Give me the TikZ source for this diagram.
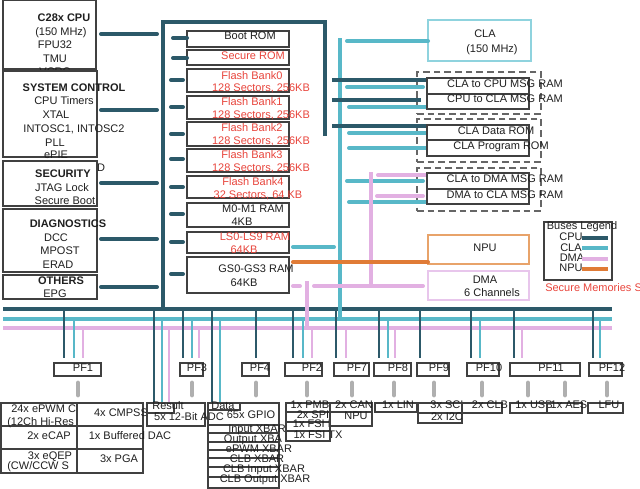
\documentclass[tikz,border=0pt]{standalone}
\usepackage{fontspec}
\setmainfont{Liberation Sans}
\usetikzlibrary{fit}
\definecolor{cpuc}{HTML}{2C5969}
\definecolor{clac}{HTML}{58B8C8}
\definecolor{dmac}{HTML}{E2B0E2}
\definecolor{npuc}{HTML}{E07B36}
\definecolor{redt}{HTML}{E8453C}
\definecolor{boxc}{HTML}{404040}
\definecolor{stubc}{HTML}{AFAFAF}
\definecolor{clabox}{HTML}{8FD3DE}
\definecolor{npubox}{HTML}{E8A36A}
\definecolor{dmabox}{HTML}{E8C6EC}
\newcommand\bbox[6][]{\node[bx,#1,fit={(#3,#4)(#5,#6)}] (#2) {};}
\tikzset{
  bx/.style={draw=boxc, line width=0.9pt, fill=white, inner sep=0pt, outer sep=0pt},
  dbx/.style={draw=boxc!80, line width=0.9pt, dash pattern=on 5pt off 3pt, fill=none, inner sep=0pt},
  tx/.style={inner sep=0pt, text height=5.9pt, text depth=0pt, font=\fontsize{8.25}{10}\selectfont, text=black!88},
  rt/.style={tx, text=redt},
  bt/.style={tx, font=\fontsize{8.25}{10}\selectfont\bfseries},
  cpubus/.style={draw=cpuc, line width=3.6pt},
  clabus/.style={draw=clac, line width=3.4pt},
  dmabus/.style={draw=dmac, line width=3.4pt},
  cpustub/.style={draw=cpuc, line width=3pt, line cap=round},
  clastub/.style={draw=clac, line width=3pt, line cap=round},
  dmastub/.style={draw=dmac, line width=3pt, line cap=round},
  npustub/.style={draw=npuc, line width=3pt, line cap=round},
  drop/.style={line width=1.5pt},
  gstub/.style={draw=stubc, line width=3.6pt, line cap=round},
  legline/.style={line width=2.4pt}
}
\begin{document}
\begin{tikzpicture}[x=0.75pt,y=-0.75pt]
\useasboundingbox (0,0) rectangle (640,489);

% ---------------- buses ----------------
\draw[cpubus, line join=miter] (325,136) -- (325,22) -- (163,22) -- (163,309);
\draw[cpubus] (3,309) -- (612,309);
\draw[clabus] (340,38) -- (340,319);
\draw[clabus] (3,319) -- (612,319);
\draw[dmabus] (3,328) -- (612,328);

% ---------------- left boxes ----------------
\bbox{cpu}{3}{0}{96}{69}
\node[bt] (tcpu1) at (64,18) {C28x CPU};
\node[tx] (tcpu2) at (61,32) {(150 MHz)};
\node[tx] (tcpu3) at (55,45) {FPU32};
\node[tx] (tcpu4) at (55,59) {TMU};
\node[tx] (tcpu5) at (55,71.5) {VCRC};

\bbox{sys}{3}{71}{97}{157}
\node[bt] (tsys1) at (74,88) {SYSTEM CONTROL};
\node[tx] (tsys2) at (64,101) {CPU Timers};
\node[tx] (tsys3) at (56,115) {XTAL};
\node[tx] (tsys4) at (74,129) {INTOSC1, INTOSC2};
\node[tx] (tsys5) at (55,143) {PLL};
\node[tx] (tsys6) at (56,155) {ePIE};
\node[tx] (tsysd) at (101,168) {D};

\bbox{sec}{3}{161}{97}{206}
\node[bt] (tsec1) at (63,174) {SECURITY};
\node[tx] (tsec2) at (62,188) {JTAG Lock};
\node[tx] (tsec3) at (65,201) {Secure Boot};

\bbox{diag}{3}{209}{97}{272}
\node[bt] (tdiag1) at (68,224) {DIAGNOSTICS};
\node[tx] (tdiag2) at (56,238) {DCC};
\node[tx] (tdiag3) at (60,251) {MPOST};
\node[tx] (tdiag4) at (58,265) {ERAD};

\bbox{oth}{3}{275}{97}{299}
\node[bt] (toth1) at (61,281) {OTHERS};
\node[tx] (toth2) at (55,294) {EPG};

% left connectors to CPU bus
\coordinate (lb1) at (157,34);
\coordinate (lb2) at (157,110);
\coordinate (lb3) at (157,183);
\coordinate (lb4) at (157,239);
\coordinate (lb5) at (157,287);
\draw[cpustub] (101,34) -- (lb1);
\draw[cpustub] (101,110) -- (lb2);
\draw[cpustub] (101,183) -- (lb3);
\draw[cpustub] (101,239) -- (lb4);
\draw[cpustub] (101,287) -- (lb5);

% ---------------- memory column ----------------
\bbox{boot}{187}{31}{289}{47}
\node[tx] (tboot) at (250,36) {Boot ROM};
\bbox{srom}{187}{50}{289}{65}
\node[rt] (tsrom) at (253,56) {Secure ROM};
\bbox{fb0}{187}{69}{289}{92}
\node[rt] (tfb0a) at (252,76) {Flash Bank0};
\node[rt] (tfb0b) at (261,88) {128 Sectors, 256KB};
\bbox{fb1}{187}{96}{289}{119}
\node[rt] (tfb1a) at (252,102) {Flash Bank1};
\node[rt] (tfb1b) at (261,115) {128 Sectors, 256KB};
\bbox{fb2}{187}{122}{289}{146}
\node[rt] (tfb2a) at (252,128) {Flash Bank2};
\node[rt] (tfb2b) at (261,141) {128 Sectors, 256KB};
\bbox{fb3}{187}{149}{289}{172}
\node[rt] (tfb3a) at (252,155) {Flash Bank3};
\node[rt] (tfb3b) at (261,168) {128 Sectors, 256KB};
\bbox{fb4}{187}{176}{289}{198}
\node[rt] (tfb4a) at (253,182) {Flash Bank4};
\node[rt] (tfb4b) at (258,195) {32 Sectors, 64 KB};
\bbox{m01}{187}{203}{289}{227}
\node[tx] (tm01a) at (253,209) {M0-M1 RAM};
\node[tx] (tm01b) at (242,222) {4KB};
\bbox{ls}{187}{232}{289}{253}
\node[rt] (tlsa) at (255,237) {LS0-LS9 RAM};
\node[rt] (tlsb) at (244,250) {64KB};
\bbox{gs}{187}{257}{289}{293}
\node[tx] (tgsa) at (256,269) {GS0-GS3 RAM};
\node[tx] (tgsb) at (244,283) {64KB};

% memory stubs from CPU bus
\draw[cpustub] (173,38) -- (boot.west |- 0,38);
\draw[cpustub] (173,58) -- (srom.west |- 0,58);
\foreach \yy in {80,107,134,159,187,214,242,274}
  \draw[cpustub] (171,\yy) -- (183,\yy);

% ---------------- CLA side ----------------
\node[bx, draw=clabox, fit={(428,20)(531,61)}] (cla) {};
\node[tx] (tcla1) at (485,34) {CLA};
\node[tx] (tcla2) at (492,49) {(150 MHz)};
\draw[clastub] (347,41) -- (cla.west |- 0,41);

\node[dbx, fit={(417,72)(541,114)}] (g1) {};
\node[dbx, fit={(417,119)(541,162)}] (g2) {};
\node[dbx, fit={(417,168)(541,211)}] (g3) {};

% connectors to message RAMs
\draw[cpustub, line cap=butt] (332,80) -- (427,80);
\draw[clastub] (347,87) -- (423,87);
\draw[cpustub, line cap=butt] (332,100) -- (421,100);
\draw[clastub] (349,107) -- (427,107);
\draw[cpustub, line cap=butt] (332,126) -- (427,126);
\draw[clastub] (349,133) -- (427,133);
\draw[clastub] (349,148) -- (427,148);
\draw[dmastub] (378,175) -- (427,175);
\draw[clastub] (347,181) -- (423,181);
\draw[dmastub] (377,196) -- (423,196);
\draw[clastub] (349,202) -- (427,202);

\bbox{m1}{427}{78}{529}{94}
\bbox{m2}{427}{94}{529}{109}
\bbox{m3}{427}{125}{529}{140}
\bbox{m4}{427}{140}{529}{156}
\bbox{m5}{427}{173}{529}{189}
\bbox{m6}{427}{189}{529}{204}
\node[tx] (tm1) at (505,84) {CLA to CPU MSG RAM};
\node[tx] (tm2) at (505,99) {CPU to CLA MSG RAM};
\node[tx] (tm3) at (496,131) {CLA Data ROM};
\node[tx] (tm4) at (501,146) {CLA Program ROM};
\node[tx] (tm5) at (505,179) {CLA to DMA MSG RAM};
\node[tx] (tm6) at (505,195) {DMA to CLA MSG RAM};

% NPU and DMA
\node[bx, draw=npubox, fit={(428,235)(529,264)}] (npu) {};
\node[tx] (tnpu) at (485,248) {NPU};
\node[bx, draw=dmabox, fit={(428,271)(529,300)}] (dma) {};
\node[tx] (tdma1) at (485,280) {DMA};
\node[tx] (tdma2) at (492,293) {6 Channels};

\draw[dmastub, line cap=butt] (371,172) -- (371,286);
\draw[clastub] (293,247) -- (334,247);
\draw[npustub] (293,262) -- (npu.west |- 0,262);
\draw[dmastub] (293,286) -- (300,286);
\draw[dmastub] (314,286) -- (423,286);
\draw[dmastub, line cap=butt] (307,281) -- (307,328);

% legend
\node[bx, fill=none, fit={(544,222)(612,280)}] (leg) {};
\node[tx] (tleg) at (582,226) {Buses Legend};
\node[tx] (tlc) at (571,237) {CPU};
\node[tx] (tll) at (571,248) {CLA};
\node[tx] (tld) at (572,258) {DMA};
\node[tx] (tln) at (571,268) {NPU};
\draw[legline, cpuc] (582,238) -- (608,238);
\draw[legline, clac] (582,248) -- (608,248);
\draw[legline, dmac] (582,259) -- (608,259);
\draw[legline, npuc] (582,269) -- (608,269);
\node[rt, anchor=west] (tsecm) at (545,288) {Secure Memories S};

% ---------------- drops to peripherals ----------------
\foreach \x/\c/\ys/\ye in {64/cpuc/311/358, 74/clac/321/358, 83/dmac/330/358,
  154/cpuc/311/403, 162/clac/321/403, 169/dmac/330/403,
  183/cpuc/311/358, 192/clac/321/358, 199/dmac/330/358,
  212/cpuc/311/403, 220/clac/321/403,
  256/cpuc/311/358,
  293/cpuc/311/358, 303/clac/321/358, 312/dmac/330/358,
  336/cpuc/311/358, 346/dmac/330/358,
  379/cpuc/311/358, 388/clac/321/358, 395/dmac/330/358,
  420/cpuc/311/358,
  471/cpuc/311/358, 480/clac/321/358,
  514/cpuc/311/358, 522/dmac/330/358,
  593/cpuc/311/358, 600/clac/321/358}
  \draw[drop, \c] (\x,\ys) -- (\x,\ye);

% PF boxes
\bbox{pf1}{54}{363}{101}{376}   \node[tx] (tpf1) at (83,368) {PF1};
\bbox{pf3}{180}{363}{203}{376}  \node[tx] (tpf3) at (197,368) {PF3};
\bbox{pf4}{242}{363}{269}{376}  \node[tx] (tpf4) at (260,368) {PF4};
\bbox{pf2}{285}{363}{322}{376}  \node[tx] (tpf2) at (312,368) {PF2};
\bbox{pf7}{334}{363}{369}{376}  \node[tx] (tpf7) at (357,368) {PF7};
\bbox{pf8}{374}{363}{411}{376}  \node[tx] (tpf8) at (398,368) {PF8};
\bbox{pf9}{417}{363}{449}{376}  \node[tx] (tpf9) at (439,368) {PF9};
\bbox{pf10}{467}{363}{499}{376} \node[tx] (tpf10) at (489,368) {PF10};
\bbox{pf11}{510}{363}{580}{376} \node[tx] (tpf11) at (551,368) {PF11};
\bbox{pf12}{589}{363}{622}{376} \node[tx] (tpf12) at (612,368) {PF12};

\foreach \x in {78,192,256,307,352,394,434,482,528,565,607}
  \draw[gstub] (\x,383) -- (\x,395);

% ---------------- bottom peripheral table ----------------
\bbox{pw}{1}{403}{77}{426}
\bbox{cap}{1}{426}{77}{449}
\bbox{qep}{1}{449}{77}{473}
\node[tx, anchor=west] (tpw1) at (11,409) {24x ePWM C};
\node[tx, anchor=west] (tpw2) at (7,422) {(12Ch Hi-Res};
\node[tx] (tcap) at (49,436) {2x eCAP};
\node[tx] (tqep1) at (50,456) {3x eQEP};
\node[tx, anchor=west] (tqep2) at (7,466) {(CW/CCW S};
\bbox{cmp}{77}{403}{143}{426}
\bbox{dac}{77}{426}{143}{449}
\bbox{pga}{77}{449}{143}{473}
\node[tx] (tcmp) at (121,413) {4x CMPSS};
\node[tx] (tdac) at (130,436) {1x Buffered DAC};
\node[tx] (tpga) at (119,459) {3x PGA};

\node[bx, fill=none, fit={(147,403)(205,426)}] (adc) {};
\node[bx, fill=none, fit={(147,403)(174,413)}] (res) {};
\node[tx] (tres) at (168,406) {Result};
\node[tx] (tadc) at (189,417) {5x 12-Bit ADC};

\node[bx, fill=none, fit={(208,403)(279,488)}] (gpio) {};
\node[bx, fill=none, fit={(208,403)(240,410)}] (dat) {};
\foreach \yy in {425,433,442,450,458,467,477}
  \draw[boxc, line width=0.9pt] (gpio.west |- 0,\yy) -- (gpio.east |- 0,\yy);
\node[tx] (tdat) at (223,406) {Data};
\node[tx] (tgpio) at (251,415) {65x GPIO};
\node[tx] (tx1) at (257,429) {Input XBAR};
\node[tx] (tx2) at (253,439) {Output XBA};
\node[tx] (tx3) at (259,449) {ePWM XBAR};
\node[tx] (tx4) at (257,459) {CLB XBAR};
\node[tx] (tx5) at (264,469) {CLB Input XBAR};
\node[tx] (tx6) at (265,479) {CLB Output XBAR};

\bbox{pmb}{286}{403}{330}{412}
\bbox{spi}{286}{412}{330}{422}
\bbox{fsr}{286}{422}{330}{431}
\bbox{fst}{286}{431}{330}{441}
\node[tx] (tpmb) at (310,405) {1x PMB};
\node[tx] (tspi) at (313,415) {2x SPI};
\node[tx] (tfsr) at (318,424) {1x FSI RX};
\node[tx] (tfst) at (318,435) {1x FSI TX};

\bbox{can}{330}{403}{372}{412}
\bbox{npu2}{330}{412}{372}{426}
\node[tx] (tcan) at (354,405) {2x CAN};
\node[tx] (tnpu2) at (356,416) {NPU};

\bbox{lin}{375}{403}{417}{412}
\node[tx] (tlin) at (398,405) {1x LIN};
\bbox{sci}{418}{403}{462}{413}
\bbox{i2c}{418}{413}{462}{423}
\node[tx] (tsci) at (447,405) {3x SCI};
\node[tx] (ti2c) at (447,417) {2x I2C};
\bbox{clb}{462}{403}{502}{413}
\node[tx] (tclb) at (490,405) {2x CLB};
\bbox{usb}{510}{403}{547}{413}
\node[tx] (tusb) at (534,405) {1x USB};
\bbox[fill=none]{aes}{547}{403}{582}{413}
\node[tx] (taes) at (569,405) {1x AES};
\bbox{lfu}{588}{403}{623}{413}
\node[tx] (tlfu) at (609,405) {LFU};
\end{tikzpicture}
\end{document}
